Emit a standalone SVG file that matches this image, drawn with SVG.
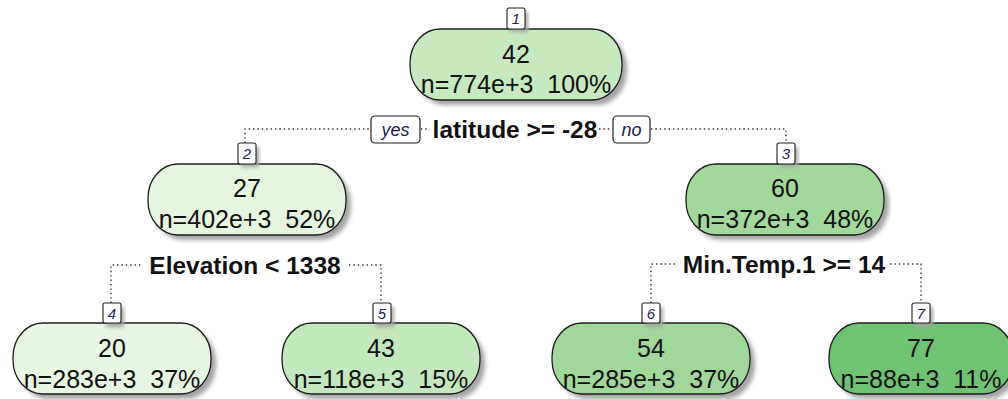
<svg xmlns="http://www.w3.org/2000/svg" width="1008" height="399" viewBox="0 0 1008 399">
  <style>
    .box { stroke: #1e1e1e; stroke-width: 1.3; }
    .shadow { fill: #a4a4a4; filter: url(#soft); }
    .num { font-family: "Liberation Sans", Arial, sans-serif; font-size: 25px; fill: #111; text-anchor: middle; }
    .idbox { fill: #fff; stroke: #1e1e1e; stroke-width: 1.1; }
    .idtxt { font-family: "Liberation Sans", Arial, sans-serif; font-size: 15px; font-style: italic; fill: #1c2250; text-anchor: middle; }
    .split { font-family: "Liberation Sans", Arial, sans-serif; font-size: 24.5px; font-weight: bold; fill: #111; text-anchor: middle; }
    .yn { fill: #fff; stroke: #1e1e1e; stroke-width: 1.2; }
    .yntxt { font-family: "Liberation Sans", Arial, sans-serif; font-size: 18px; font-style: italic; fill: #1c2250; text-anchor: middle; }
    .dot { fill: none; stroke: #333; stroke-width: 1.4; stroke-dasharray: 1.4 3; }
  </style>
  <defs>
    <filter id="soft" x="-10%" y="-20%" width="120%" height="140%">
      <feGaussianBlur stdDeviation="2.2"/>
    </filter>
  </defs>
  <rect width="1008" height="399" fill="#fff"/>

  <!-- dotted split connectors -->
  <g id="connectors">
    <polyline class="dot" points="245,143 245,129 371,129"/>
    <line class="dot" x1="421" y1="129" x2="430" y2="129"/>
    <line class="dot" x1="599" y1="129" x2="612" y2="129"/>
    <polyline class="dot" points="651,129 786,129 786,143"/>
    <polyline class="dot" points="111,303 111,265 142,265"/>
    <polyline class="dot" points="349,265 381,265 381,303"/>
    <polyline class="dot" points="651,303 651,264 678,264"/>
    <polyline class="dot" points="890,264 921,264 921,303"/>
  </g>

  <!-- split labels -->
  <g id="split-1">
    <text class="split" x="515" y="138">latitude &gt;= -28</text>
    <rect class="yn" x="371" y="116" width="49" height="27" rx="4"/>
    <text class="yntxt" x="395.5" y="136">yes</text>
    <rect class="yn" x="613" y="116" width="37" height="27" rx="4"/>
    <text class="yntxt" x="631.5" y="136">no</text>
  </g>
  <g id="split-2">
    <text class="split" x="245" y="274">Elevation &lt; 1338</text>
  </g>
  <g id="split-3">
    <text class="split" x="784" y="273">Min.Temp.1 &gt;= 14</text>
  </g>

  <!-- node 1 -->
  <g id="node1">
    <rect class="shadow" x="415" y="34" width="212" height="71" rx="30" ry="34"/>
    <rect class="box" x="410" y="29" width="212" height="71" rx="30" ry="34" fill="#c7e9c0"/>
    <rect class="shadow" x="510" y="12" width="18" height="20"/>
    <rect class="idbox" x="507" y="8" width="18" height="21" rx="2"/>
    <text class="idtxt" x="516" y="24">1</text>
    <text class="num" x="516" y="63">42</text>
    <text class="num" x="516" y="93" xml:space="preserve">n=774e+3  100%</text>
  </g>

  <!-- node 2 -->
  <g id="node2">
    <rect class="shadow" x="153" y="169" width="198" height="71" rx="30" ry="34"/>
    <rect class="box" x="148" y="164" width="198" height="71" rx="30" ry="34" fill="#e5f5e0"/>
    <rect class="shadow" x="241" y="147" width="18" height="20"/>
    <rect class="idbox" x="238" y="143" width="18" height="21" rx="2"/>
    <text class="idtxt" x="247" y="159">2</text>
    <text class="num" x="247" y="197">27</text>
    <text class="num" x="247" y="228" xml:space="preserve">n=402e+3  52%</text>
  </g>

  <!-- node 3 -->
  <g id="node3">
    <rect class="shadow" x="691" y="169" width="198" height="71" rx="30" ry="34"/>
    <rect class="box" x="686" y="164" width="198" height="71" rx="30" ry="34" fill="#a1d99b"/>
    <rect class="shadow" x="780" y="147" width="18" height="20"/>
    <rect class="idbox" x="777" y="143" width="18" height="21" rx="2"/>
    <text class="idtxt" x="786" y="159">3</text>
    <text class="num" x="785" y="197">60</text>
    <text class="num" x="785" y="228" xml:space="preserve">n=372e+3  48%</text>
  </g>

  <!-- node 4 -->
  <g id="node4">
    <rect class="shadow" x="18" y="328" width="198" height="71" rx="30" ry="34"/>
    <rect class="box" x="13" y="323" width="198" height="71" rx="30" ry="34" fill="#e7f5e3"/>
    <rect class="shadow" x="106" y="307" width="18" height="20"/>
    <rect class="idbox" x="103" y="303" width="18" height="20" rx="2"/>
    <text class="idtxt" x="112" y="319">4</text>
    <text class="num" x="112" y="357">20</text>
    <text class="num" x="112" y="388" xml:space="preserve">n=283e+3  37%</text>
  </g>

  <!-- node 5 -->
  <g id="node5">
    <rect class="shadow" x="287" y="328" width="198" height="71" rx="30" ry="34"/>
    <rect class="box" x="282" y="323" width="198" height="71" rx="30" ry="34" fill="#c4e8bd"/>
    <rect class="shadow" x="376" y="307" width="18" height="20"/>
    <rect class="idbox" x="373" y="303" width="18" height="20" rx="2"/>
    <text class="idtxt" x="382" y="319">5</text>
    <text class="num" x="381" y="357">43</text>
    <text class="num" x="381" y="388" xml:space="preserve">n=118e+3  15%</text>
  </g>

  <!-- node 6 -->
  <g id="node6">
    <rect class="shadow" x="557" y="328" width="198" height="71" rx="30" ry="34"/>
    <rect class="box" x="552" y="323" width="198" height="71" rx="30" ry="34" fill="#9fd899"/>
    <rect class="shadow" x="645" y="307" width="18" height="20"/>
    <rect class="idbox" x="642" y="303" width="18" height="20" rx="2"/>
    <text class="idtxt" x="651" y="319">6</text>
    <text class="num" x="651" y="357">54</text>
    <text class="num" x="651" y="388" xml:space="preserve">n=285e+3  37%</text>
  </g>

  <!-- node 7 -->
  <g id="node7">
    <rect class="shadow" x="834" y="328" width="184" height="71" rx="30" ry="34"/>
    <rect class="box" x="829" y="323" width="184" height="71" rx="30" ry="34" fill="#70c372"/>
    <rect class="shadow" x="915" y="307" width="18" height="20"/>
    <rect class="idbox" x="912" y="303" width="18" height="20" rx="2"/>
    <text class="idtxt" x="921" y="319">7</text>
    <text class="num" x="921" y="357">77</text>
    <text class="num" x="921" y="388" xml:space="preserve">n=88e+3  11%</text>
  </g>
</svg>
